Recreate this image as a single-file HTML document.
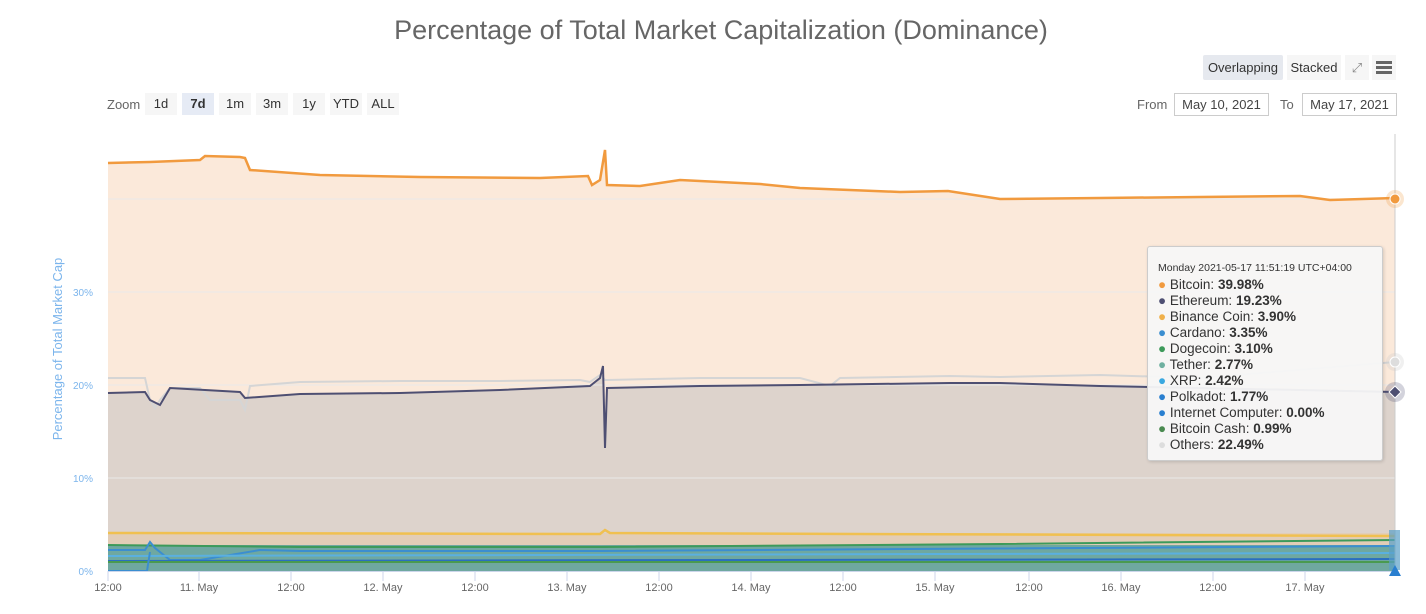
<!DOCTYPE html>
<html><head><meta charset="utf-8"><style>
body{margin:0;background:#fff;font-family:"Liberation Sans",sans-serif;}
.t{position:absolute;font-size:12px;color:#333}
</style></head><body>
<div style="position:relative;width:1426px;height:614px;overflow:hidden">
<div style="position:absolute;left:0;width:1442px;top:15px;text-align:center;font-size:27px;color:#666">Percentage of Total Market Capitalization (Dominance)</div>
<div style="position:absolute;left:1203px;top:55px;width:80px;height:25px;background:#e6e9ef;border-radius:2px;font-size:13px;line-height:25px;text-align:center;color:#333">Overlapping</div>
<div style="position:absolute;left:1287px;top:55px;width:54px;height:25px;background:#f6f6f6;font-size:13px;line-height:25px;text-align:center;color:#333">Stacked</div>
<div style="position:absolute;left:1345px;top:55px;width:24px;height:25px;background:#f6f6f6;font-size:13px;line-height:25px;text-align:center;color:#888">⤢</div>
<div style="position:absolute;left:1372px;top:55px;width:24px;height:25px;background:#f6f6f6"><div style="margin:6px 4px;height:3px;background:#666;box-shadow:0 5px 0 #666,0 10px 0 #666"></div></div>
<div class="t" style="left:107px;top:97px;color:#666;font-size:13px">Zoom</div>
<div style="position:absolute;top:93px;left:145px;font-size:13px;color:#333">
<span style="position:absolute;left:0;width:32px;height:22px;background:#f6f6f6;text-align:center;line-height:22px">1d</span>
<span style="position:absolute;left:37px;width:32px;height:22px;background:#e6ebf5;text-align:center;line-height:22px;font-weight:bold">7d</span>
<span style="position:absolute;left:74px;width:32px;height:22px;background:#f6f6f6;text-align:center;line-height:22px">1m</span>
<span style="position:absolute;left:111px;width:32px;height:22px;background:#f6f6f6;text-align:center;line-height:22px">3m</span>
<span style="position:absolute;left:148px;width:32px;height:22px;background:#f6f6f6;text-align:center;line-height:22px">1y</span>
<span style="position:absolute;left:185px;width:32px;height:22px;background:#f6f6f6;text-align:center;line-height:22px">YTD</span>
<span style="position:absolute;left:222px;width:32px;height:22px;background:#f6f6f6;text-align:center;line-height:22px">ALL</span>
</div>
<div class="t" style="left:1137px;top:97px;color:#666;font-size:13px">From</div>
<div style="position:absolute;left:1174px;top:93px;width:93px;height:21px;border:1px solid #ccc;font-size:13px;line-height:21px;text-align:center;color:#444">May 10, 2021</div>
<div class="t" style="left:1280px;top:97px;color:#666;font-size:13px">To</div>
<div style="position:absolute;left:1302px;top:93px;width:93px;height:21px;border:1px solid #ccc;font-size:13px;line-height:21px;text-align:center;color:#444">May 17, 2021</div>
<div style="position:absolute;left:50px;top:449px;transform:rotate(-90deg);transform-origin:0 0;font-size:13px;color:#7cb5ec;white-space:nowrap;width:200px;text-align:center">Percentage of Total Market Cap</div>
<svg width="1426" height="614" style="position:absolute;left:0;top:0" font-family="Liberation Sans" font-size="11">
<path d="M108,163 L150,162 200,160 205,156 240,157 245,158 250,170 320,175 420,177 540,178 588,176 592,185 600,180 605,150 607,185 640,186 680,180 760,184 800,188 900,192 948,191 1000,199 1100,198 1200,197 1300,196 1330,200 1395,198 L1395,571 L108,571Z" fill="#fbe9da"/>
<path d="M108,393 L145,392 150,400 160,405 170,388 240,392 245,398 300,394 400,393 500,390 590,386 600,378 603,372 605,448 607,388 700,386 800,385 950,383 1000,383 1100,386 1200,388 1395,392 L1395,571 L108,571Z" fill="#ddd3cc"/>
<g stroke="#e9e9e9"><line x1="108" x2="1395" y1="199" y2="199"/><line x1="108" x2="1395" y1="292" y2="292"/><line x1="108" x2="1395" y1="385" y2="385"/><line x1="108" x2="1395" y1="478" y2="478"/></g>
<path d="M108,378 L145,378 150,400 155,408 160,400 170,388 200,388 210,400 240,400 245,410 250,386 300,382 400,381 500,381 580,380 590,382 600,375 605,380 607,380 700,378 800,378 830,386 840,378 950,376 1000,377 1100,375 1200,378 1395,362" stroke="#d5d5d5" stroke-width="2" fill="none"/>
<path d="M108,393 L145,392 150,400 160,405 170,388 240,392 245,398 300,394 400,393 500,390 590,386 600,378 603,366 605,448 607,388 700,386 800,385 950,383 1000,383 1100,386 1200,388 1395,392" stroke="#4e4f72" stroke-width="2" fill="none"/>
<path d="M108,163 L150,162 200,160 205,156 240,157 245,158 250,170 320,175 420,177 540,178 588,176 592,185 600,180 605,150 607,185 640,186 680,180 760,184 800,188 900,192 948,191 1000,199 1100,198 1200,197 1300,196 1330,200 1395,198" stroke="#f19a3e" stroke-width="2.5" fill="none"/>
<rect x="108" y="533" width="1287" height="38" fill="#e6c9a8" opacity=".6"/>
<path d="M108,533 L600,534 605,530 610,533 1395,536" stroke="#f0c050" stroke-width="2.5" fill="none"/>
<rect x="108" y="545" width="1287" height="26" fill="#6fa8a0"/>
<path d="M108,545 L300,547 600,547 1000,544 1395,540" stroke="#3d9a5a" stroke-width="2" fill="none"/>
<path d="M108,550 L145,550 150,542 155,548 170,560 200,560 260,550 300,551 600,551 1395,546" stroke="#3b8ed0" stroke-width="2" fill="none"/>
<path d="M108,556 L1395,553" stroke="#5ab0e0" stroke-width="2" fill="none"/>
<path d="M108,561 L1395,559" stroke="#2a6fc0" stroke-width="2" fill="none"/>
<path d="M108,562 L1395,562" stroke="#4a9a50" stroke-width="2" fill="none"/>
<path d="M108,571 L147,571 150,552" stroke="#3b8ed0" stroke-width="2" fill="none"/>
<line x1="1395" y1="134" x2="1395" y2="571" stroke="#ccc"/>
<line x1="108" x2="1395" y1="571.5" y2="571.5" stroke="#ccd6eb"/>
<g stroke="#ccd6eb">
<line x1="108" x2="108" y1="571" y2="581"/><line x1="199" x2="199" y1="571" y2="581"/><line x1="291" x2="291" y1="571" y2="581"/><line x1="383" x2="383" y1="571" y2="581"/><line x1="475" x2="475" y1="571" y2="581"/><line x1="567" x2="567" y1="571" y2="581"/><line x1="659" x2="659" y1="571" y2="581"/><line x1="751" x2="751" y1="571" y2="581"/><line x1="843" x2="843" y1="571" y2="581"/><line x1="935" x2="935" y1="571" y2="581"/><line x1="1029" x2="1029" y1="571" y2="581"/><line x1="1121" x2="1121" y1="571" y2="581"/><line x1="1213" x2="1213" y1="571" y2="581"/><line x1="1305" x2="1305" y1="571" y2="581"/></g>
<g fill="#666" text-anchor="middle">
<text x="108" y="591">12:00</text><text x="199" y="591">11. May</text><text x="291" y="591">12:00</text><text x="383" y="591">12. May</text><text x="475" y="591">12:00</text><text x="567" y="591">13. May</text><text x="659" y="591">12:00</text><text x="751" y="591">14. May</text><text x="843" y="591">12:00</text><text x="935" y="591">15. May</text><text x="1029" y="591">12:00</text><text x="1121" y="591">16. May</text><text x="1213" y="591">12:00</text><text x="1305" y="591">17. May</text></g>
<g fill="#7cb5ec" font-size="10" text-anchor="end"><text x="93" y="296">30%</text><text x="93" y="482">10%</text><text x="93" y="389">20%</text><text x="93" y="575">0%</text></g>
<circle cx="1395" cy="199" r="9" fill="#f19a3e" opacity=".25"/><circle cx="1395" cy="199" r="5" fill="#f19a3e" stroke="#fff"/>
<circle cx="1395" cy="362" r="9" fill="#ccc" opacity=".3"/><circle cx="1395" cy="362" r="5" fill="#ddd" stroke="#fff"/>
<circle cx="1395" cy="392" r="10" fill="#4e4f72" opacity=".25"/><path d="M1395,386 L1401,392 1395,398 1389,392Z" fill="#4e4f72" stroke="#fff"/>
<rect x="1389" y="530" width="11" height="40" fill="#5aa0c8" opacity=".7"/>
<path d="M1395,565 L1401,576 1389,576Z" fill="#2a7fd0"/>
</svg>
<div style="position:absolute;left:1147px;top:246px;width:234px;height:213px;background:rgba(247,247,247,.95);border:1px solid #ccc;border-radius:3px;box-shadow:1px 1px 3px rgba(0,0,0,.15);font-size:13.5px;color:#333;line-height:16px;padding:0">
<div style="font-size:10.5px;margin:15px 0 3px 10px;line-height:12px">Monday 2021-05-17 11:51:19 UTC+04:00</div>
<div style="margin-left:10px">
<div><span style="color:#f19a3e">●</span> Bitcoin: <b>39.98%</b></div>
<div><span style="color:#4e4f72">●</span> Ethereum: <b>19.23%</b></div>
<div><span style="color:#f0b04a">●</span> Binance Coin: <b>3.90%</b></div>
<div><span style="color:#3b8ed0">●</span> Cardano: <b>3.35%</b></div>
<div><span style="color:#3d9a5a">●</span> Dogecoin: <b>3.10%</b></div>
<div><span style="color:#6fb0a0">●</span> Tether: <b>2.77%</b></div>
<div><span style="color:#3aa8e0">●</span> XRP: <b>2.42%</b></div>
<div><span style="color:#2a7fd0">●</span> Polkadot: <b>1.77%</b></div>
<div><span style="color:#2a7fd0">●</span> Internet Computer: <b>0.00%</b></div>
<div><span style="color:#4a8a50">●</span> Bitcoin Cash: <b>0.99%</b></div>
<div><span style="color:#ddd">●</span> Others: <b>22.49%</b></div>
</div></div>
</div>
</body></html>
